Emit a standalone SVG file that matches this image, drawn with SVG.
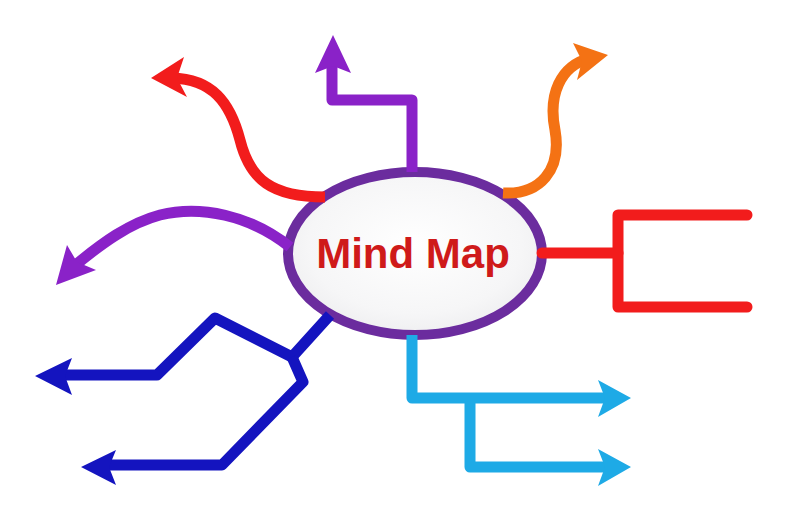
<svg xmlns="http://www.w3.org/2000/svg" width="793" height="520" viewBox="0 0 793 520">
<style>
.ln{fill:none;stroke-width:11;stroke-linejoin:round;stroke-linecap:butt}
.rd{stroke:#f21c1c}.rdf{fill:#f21c1c}
.pu{stroke:#8a22c8}.puf{fill:#8a22c8}
.or{stroke:#f47214}.orf{fill:#f47214}
.bl{stroke:#1414bf}.blf{fill:#1414bf}
.lb{stroke:#1eaae6}.lbf{fill:#1eaae6}
.lbl{font-family:"Liberation Sans",Arial,sans-serif;font-weight:bold;font-size:42px;fill:#cf1a1a;text-anchor:middle}
</style>
<defs>
<radialGradient id="g" cx="0.5" cy="0.45" r="0.6">
<stop offset="0" stop-color="#ffffff"/>
<stop offset="0.7" stop-color="#f6f6f7"/>
<stop offset="1" stop-color="#ececee"/>
</radialGradient>
</defs>
<rect width="793" height="520" fill="#ffffff"/>
<g id="center">
<ellipse cx="415" cy="253.5" rx="127" ry="81.5" fill="url(#g)" stroke="#6b2c9e" stroke-width="10"/>
<text class="lbl" x="413" y="268">Mind Map</text>
</g>
<g id="connectors">
<path class="ln pu" d="M412 172 V100 H332 V58"/>
<path class="puf" d="M333 35 L351 73 L333 66 L315 73 Z"/>
<path class="ln rd" d="M325 197 C272 197 250 180 240 140 C230 102 212 79 172 78"/>
<path class="rdf" d="M151 78 L184 57 L177 78 L187 97 Z"/>
<path class="ln or" d="M503 193 C540 195 562 170 555 130 C548 95 560 66 590 58"/>
<path class="orf" d="M608 55 L573 43 L582 61 L577 80 Z"/>
<path class="ln pu" d="M290 247 C250 215 200 205 160 215 C130 223 103 242 72 268"/>
<path class="puf" d="M56 285 L67 245 L77 262 L96 270 Z"/>
<path class="ln bl" d="M330 315 L292 357 L215 318 L157 375 H58"/>
<path class="blf" d="M35 376 L72 358 L65 376 L72 395 Z"/>
<path class="ln bl" d="M292 357 L303 382 L222 465 H102"/>
<path class="blf" d="M81 467 L116 450 L109 467 L116 485 Z"/>
<path class="ln lb" d="M412 335 V398 H612"/>
<path class="lbf" d="M631 398 L598 380 L605 398 L598 417 Z"/>
<path class="ln lb" d="M470 398 V467 H612"/>
<path class="lbf" d="M631 467 L598 449 L605 467 L598 486 Z"/>
<path class="ln rd" style="stroke-linecap:round" d="M542 253 H618"/>
<path class="ln rd" style="stroke-linecap:round" d="M747 215 H618 V307 H747"/>
</g>
</svg>
